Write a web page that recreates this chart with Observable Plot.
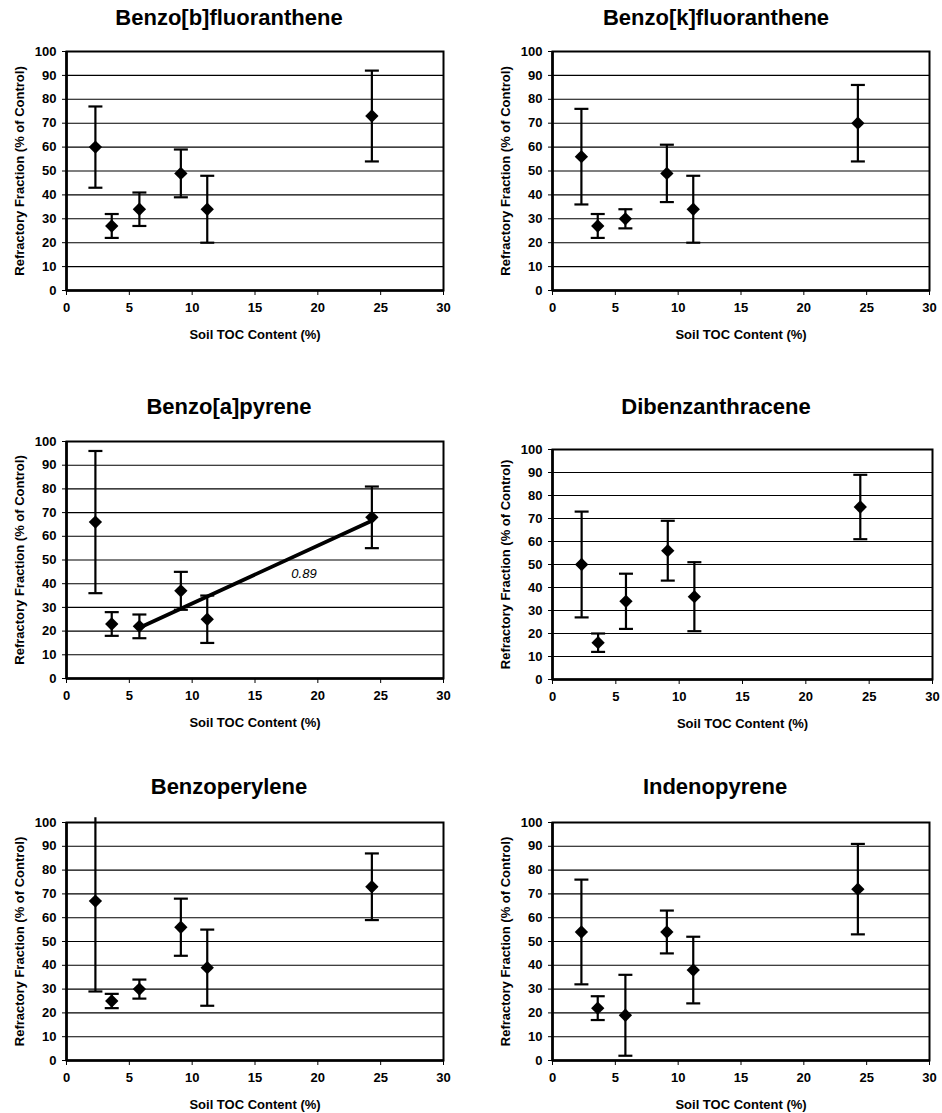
<!DOCTYPE html>
<html>
<head>
<meta charset="utf-8">
<script src="https://cdn.jsdelivr.net/npm/d3@7"></script>
<script src="https://cdn.jsdelivr.net/npm/@observablehq/plot@0.6"></script>
<style>
  body { margin: 0; background: #fff; }
  #root { position: relative; width: 942px; height: 1113px; background: #fff; overflow: hidden;
          font-family: "Liberation Sans", Arial, sans-serif; }
  .title { position: absolute; font-weight: bold; font-size: 22px; transform: translate(-50%, -50%);
           white-space: nowrap; color: #000; }
  .panel { position: absolute; }
</style>
</head>
<body>
<div id="root"></div>
<script>
// ---- data ----
const toc = [2.3, 3.6, 5.8, 9.1, 11.2, 24.3];           // Soil TOC content (%)
const compounds = ["Benzo[b]fluoranthene", "Benzo[k]fluoranthene", "Benzo[a]pyrene",
                   "Dibenzanthracene", "Benzoperylene", "Indenopyrene"];

const bbfMean = [60, 27, 34, 49, 34, 73];
const bbfLow  = [43, 22, 27, 39, 20, 54];
const bbfHigh = [77, 32, 41, 59, 48, 92];

const bkfMean = [56, 27, 30, 49, 34, 70];
const bkfLow  = [36, 22, 26, 37, 20, 54];
const bkfHigh = [76, 32, 34, 61, 48, 86];

const bapMean = [66, 23, 22, 37, 25, 68];
const bapLow  = [36, 18, 17, 29, 15, 55];
const bapHigh = [96, 28, 27, 45, 35, 81];

const dbaMean = [50, 16, 34, 56, 36, 75];
const dbaLow  = [27, 12, 22, 43, 21, 61];
const dbaHigh = [73, 20, 46, 69, 51, 89];

const bpMean = [67, 25, 30, 56, 39, 73];
const bpLow  = [29, 22, 26, 44, 23, 59];
const bpHigh = [102, 28, 34, 68, 55, 87];

const ipMean = [54, 22, 19, 54, 38, 72];
const ipLow  = [32, 17, 2, 45, 24, 53];
const ipHigh = [76, 27, 36, 63, 52, 91];

// Benzo[a]pyrene regression uses the samples from the 3rd onwards
const bapFitIndex = [2, 3, 4, 5];
const bapR2Label = [18.9, 44];   // position (TOC, %) of the R² annotation

const yTicks = [0, 10, 20, 30, 40, 50, 60, 70, 80, 90, 100];
const xTicks = [0, 5, 10, 15, 20, 25, 30];

// ---- layout ----
const series = [
  [bbfMean, bbfLow, bbfHigh],
  [bkfMean, bkfLow, bkfHigh],
  [bapMean, bapLow, bapHigh],
  [dbaMean, dbaLow, dbaHigh],
  [bpMean, bpLow, bpHigh],
  [ipMean, ipLow, ipHigh]
];
const layout = [
  {left: 0,   frameTop: 51,  frameH: 239, width: 470, ml: 66, mr: 27, tx: 229, ty: 18},
  {left: 470, frameTop: 51,  frameH: 239, width: 472, ml: 82, mr: 13, tx: 716, ty: 18},
  {left: 0,   frameTop: 441, frameH: 237, width: 470, ml: 66, mr: 27, tx: 229, ty: 407},
  {left: 470, frameTop: 449, frameH: 230, width: 472, ml: 82, mr: 10, tx: 716, ty: 407},
  {left: 0,   frameTop: 822, frameH: 238, width: 470, ml: 66, mr: 27, tx: 229, ty: 787},
  {left: 470, frameTop: 822, frameH: 238, width: 472, ml: 82, mr: 13, tx: 715, ty: 787}
];

const capSymbol = {
  draw(ctx) { ctx.moveTo(-7, 0); ctx.lineTo(7, 0); }
};

const root = document.getElementById("root");
const MT = 12, MB = 54;

compounds.forEach((name, i) => {
  const [mean, low, high] = series[i];
  const L = layout[i];
  const data = toc.map((x, j) => ({x, y: mean[j], lo: low[j], hi: high[j], j}));

  const t = document.createElement("div");
  t.className = "title";
  t.textContent = name;
  t.style.left = L.tx + "px";
  t.style.top = L.ty + "px";
  root.appendChild(t);

  const marks = [
    Plot.gridY(yTicks, {stroke: "#000", strokeOpacity: 1, strokeWidth: 1.1}),
    Plot.frame({stroke: "#000", strokeWidth: 2}),
    Plot.axisY({ticks: yTicks, tickSize: 4, tickPadding: 6, label: "Refractory Fraction (% of Control)",
                labelAnchor: "center", labelOffset: 52, labelArrow: "none", tickFormat: d => d}),
    Plot.axisX({ticks: xTicks, tickSize: 5, tickPadding: 7, label: "Soil TOC Content (%)",
                labelAnchor: "center", labelOffset: 48, labelArrow: "none", tickFormat: d => d}),
    Plot.ruleX([0], {stroke: "#000", strokeWidth: 2.6}),
    Plot.ruleY([0], {stroke: "#000", strokeWidth: 2.6}),
    Plot.ruleX(data, {x: "x", y1: "lo", y2: "hi", stroke: "#000", strokeWidth: 2.2}),
    Plot.dot(data.filter(d => d.hi <= 100), {x: "x", y: "hi", symbol: capSymbol, stroke: "#000", strokeWidth: 2.2, fill: "none"}),
    Plot.dot(data, {x: "x", y: "lo", symbol: capSymbol, stroke: "#000", strokeWidth: 2.2, fill: "none"}),
    Plot.dot(data, {x: "x", y: "y", symbol: "diamond2", r: 6, fill: "#000", stroke: "none"})
  ];

  if (name === "Benzo[a]pyrene") {
    const fit = data.filter(d => bapFitIndex.includes(d.j));
    const mx = d3.mean(fit, d => d.x), my = d3.mean(fit, d => d.y);
    const sxy = d3.sum(fit, d => (d.x - mx) * (d.y - my));
    const sxx = d3.sum(fit, d => (d.x - mx) ** 2);
    const syy = d3.sum(fit, d => (d.y - my) ** 2);
    const r2 = (sxy * sxy) / (sxx * syy);
    marks.push(Plot.linearRegressionY(fit, {x: "x", y: "y", ci: 0, stroke: "#000", strokeWidth: 3.8}));
    marks.push(Plot.text([bapR2Label], {x: d => d[0], y: d => d[1], text: () => r2.toFixed(2),
      fontStyle: "italic", fontWeight: "normal", fontSize: 13, fill: "#000"}));
  }

  const plot = Plot.plot({
    width: L.width,
    height: MT + L.frameH + MB,
    marginLeft: L.ml, marginRight: L.mr, marginTop: MT, marginBottom: MB,
    x: {domain: [0, 30]},
    y: {domain: [0, 100]},
    style: {fontFamily: "'Liberation Sans', Arial, sans-serif", fontWeight: "bold", fontSize: "13px",
            color: "#000", background: "transparent", overflow: "visible"},
    marks
  });
  const wrap = document.createElement("div");
  wrap.className = "panel";
  wrap.style.left = L.left + "px";
  wrap.style.top = (L.frameTop - MT) + "px";
  wrap.appendChild(plot);
  root.appendChild(wrap);
});
</script>
</body>
</html>
